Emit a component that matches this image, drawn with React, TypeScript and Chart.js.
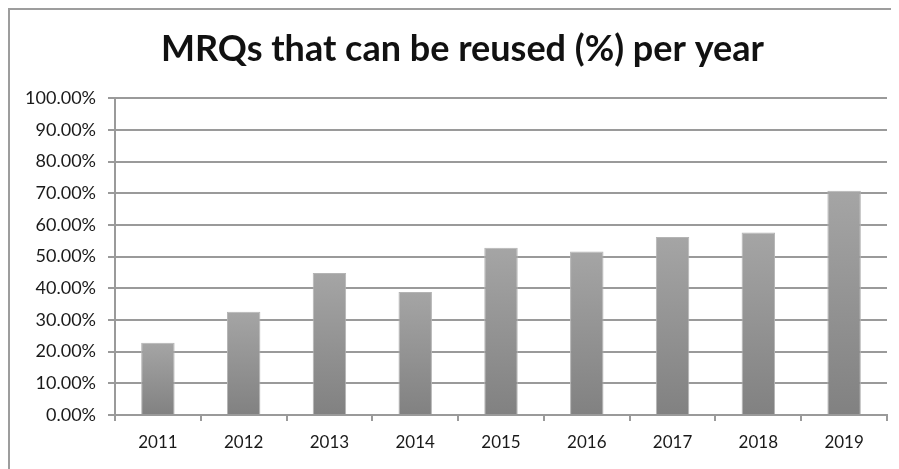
import React, { useEffect, useRef } from "react";
import { Chart, registerables } from "chart.js";

Chart.register(...registerables);

const years = ["2011", "2012", "2013", "2014", "2015", "2016", "2017", "2018", "2019"];
const reusedPct = [22.8, 32.6, 44.8, 38.8, 52.8, 51.6, 56.2, 57.6, 70.8];
const yTicks = [0, 10, 20, 30, 40, 50, 60, 70, 80, 90, 100];
const titleText = "MRQs that can be reused (%) per year";

const FONT = "Lato, 'Open Sans', sans-serif";

const shiftTitle = {
  id: "shiftTitle",
  afterLayout(chart: any) {
    if (chart.titleBlock) {
      chart.titleBlock.left = 28;
    }
  },
};

export default function App() {
  const ref = useRef<HTMLCanvasElement | null>(null);

  useEffect(() => {
    if (!ref.current) return;
    const chart = new Chart(ref.current, {
      type: "bar",
      data: {
        labels: years,
        datasets: [
          {
            data: reusedPct,
            backgroundColor: (ctx: any) => {
              const c = ctx.chart;
              const area = c.chartArea;
              if (!area || ctx.raw == null) return "#939393";
              const yScale = c.scales.y;
              const top = yScale.getPixelForValue(ctx.raw);
              const bottom = yScale.getPixelForValue(0);
              const g = c.ctx.createLinearGradient(0, top, 0, bottom);
              g.addColorStop(0, "#a5a5a5");
              g.addColorStop(1, "#818181");
              return g;
            },
            borderColor: "#b4b4b4",
            borderWidth: 1,
            barPercentage: 0.39,
            categoryPercentage: 1,
          },
        ],
      },
      plugins: [shiftTitle],
      options: {
        responsive: false,
        animation: false,
        layout: { padding: { left: 0, right: 12, top: 0, bottom: 0 } },
        plugins: {
          legend: { display: false },
          tooltip: { enabled: false },
          title: {
            display: true,
            text: titleText,
            color: "#111",
            font: { family: FONT, size: 36, weight: "bold" },
            padding: { top: 18, bottom: 27 },
          },
        },
        scales: {
          x: {
            grid: {
              display: true,
              drawOnChartArea: false,
              drawTicks: true,
              tickLength: 6,
              color: "#9a9a9a",
              lineWidth: 2,
              offset: true,
            },
            border: { display: true, color: "#9a9a9a", width: 2 },
            ticks: {
              color: "#1a1a1a",
              font: { family: FONT, size: 17 },
              padding: 11,
            },
            afterFit: (s: any) => {
              s.height = 54;
            },
          },
          y: {
            min: 0,
            max: 100,
            afterBuildTicks: (s: any) => {
              s.ticks = yTicks.map((v) => ({ value: v }));
            },
            grid: {
              color: "#9a9a9a",
              lineWidth: 2,
              drawTicks: true,
              tickLength: 7,
            },
            border: { display: true, color: "#9a9a9a", width: 2 },
            ticks: {
              color: "#1a1a1a",
              font: { family: FONT, size: 18 },
              padding: 12,
              callback: (v: any) => Number(v).toFixed(2) + "%",
            },
            afterFit: (s: any) => {
              s.width = 105;
            },
          },
        },
      },
    } as any);
    return () => chart.destroy();
  }, []);

  return (
    <div
      style={{
        width: 891,
        height: 461,
        boxSizing: "border-box",
        borderTop: "2px solid #9d9d9d",
        borderLeft: "2px solid #9d9d9d",
        background: "#fff",
        overflow: "hidden",
      }}
    >
      <canvas ref={ref} width={889} height={459} style={{ display: "block" }} />
    </div>
  );
}
